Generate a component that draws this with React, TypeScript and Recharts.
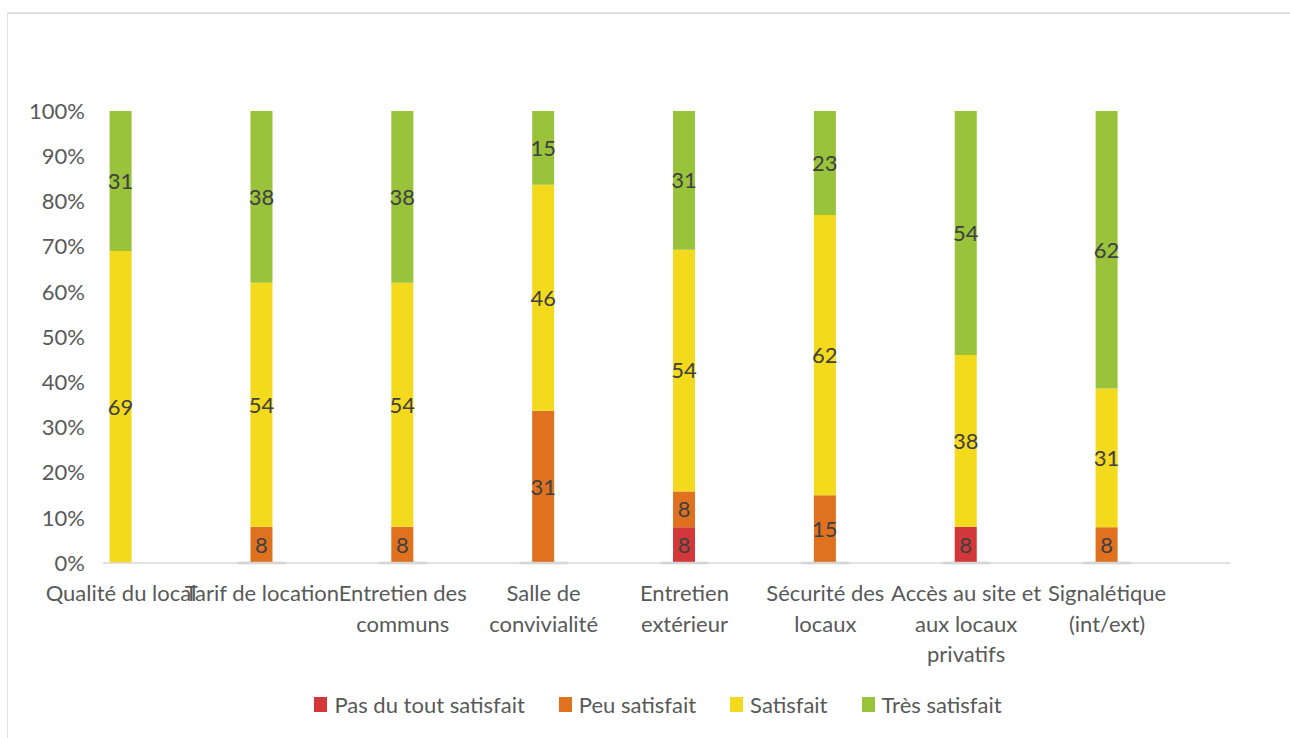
import { Bar, BarChart, LabelList, Legend, ReferenceLine, XAxis, YAxis } from "recharts";

const categories = [
  "Qualité du local",
  "Tarif de location",
  "Entretien des\ncommuns",
  "Salle de\nconvivialité",
  "Entretien\nextérieur",
  "Sécurité des\nlocaux",
  "Accès au site et\naux locaux\nprivatifs",
  "Signalétique\n(int/ext)",
];

const pasDuTout = [0, 0, 0, 0, 8, 0, 8, 0];
const peu = [0, 8, 8, 31, 8, 15, 0, 8];
const satisfait = [69, 54, 54, 46, 54, 62, 38, 31];
const tres = [31, 38, 38, 15, 31, 23, 54, 62];

const yTicks = [0, 0.1, 0.2, 0.3, 0.4, 0.5, 0.6, 0.7, 0.8, 0.9, 1];

const series = [
  { key: "pas", name: "Pas du tout satisfait", color: "#d2373a" },
  { key: "peu", name: "Peu satisfait", color: "#e0711f" },
  { key: "sat", name: "Satisfait", color: "#f3da1c" },
  { key: "tres", name: "Très satisfait", color: "#99c33b" },
];

const data = categories.map((c, i) => ({
  idx: i,
  name: c,
  pas: pasDuTout[i],
  peu: peu[i],
  sat: satisfait[i],
  tres: tres[i],
}));

const FONT = "Lato, 'Open Sans', sans-serif";

const CategoryTick = (props: any) => {
  const { x, y, payload } = props;
  const lines = (categories[payload.value] ?? "").split("\n");
  return (
    <text x={x} y={y} textAnchor="middle" fill="#595959" fontSize={22} fontFamily={FONT}>
      {lines.map((l, i) => (
        <tspan key={i} x={x} dy={i === 0 ? 30 : 30.5}>
          {l}
        </tspan>
      ))}
    </text>
  );
};

const LegendContent = () => (
  <div style={{ display: "flex", justifyContent: "center", fontFamily: FONT, fontSize: 22, color: "#595959", paddingLeft: 26 }}>
    {series.map((s, i) => (
      <div key={s.key} style={{ display: "flex", alignItems: "center", marginLeft: i === 0 ? 0 : 34 }}>
        <span style={{ width: 13, height: 15, background: s.color, display: "inline-block", marginRight: 7 }} />
        <span>{s.name}</span>
      </div>
    ))}
  </div>
);

export default function App() {
  return (
    <div style={{ position: "absolute", left: 0, top: 0, width: 1290, height: 738, background: "#fff", overflow: "hidden" }}>
      <div
        style={{
          position: "absolute",
          left: 7,
          top: 12,
          width: 1300,
          height: 760,
          borderTop: "2px solid #dedede",
          borderLeft: "1.5px solid #e2e2e2",
        }}
      />
      <BarChart
        width={1290}
        height={738}
        data={data}
        stackOffset="expand"
        margin={{ top: 111, right: 60, bottom: 75, left: 0 }}
        style={{ position: "absolute", left: 0, top: 0 }}
      >
        <XAxis
          dataKey="idx"
          type="number"
          domain={[-0.128, 7.873]}
          ticks={[0, 1, 2, 3, 4, 5, 6, 7]}
          interval={0}
          allowDataOverflow
          tick={<CategoryTick />}
          tickLine={false}
          axisLine={{ stroke: "#d9d9d9", strokeWidth: 1.5 }}
          height={100}
        />
        <YAxis
          ticks={yTicks}
          domain={[0, 1]}
          tickFormatter={(v: number) => `${Math.round(v * 100)}%`}
          tick={{ fill: "#595959", fontSize: 22, fontFamily: FONT }}
          tickLine={false}
          axisLine={false}
          tickMargin={12}
          width={103}
        />
        {categories.map((_, i) => (
          <ReferenceLine
            key={i}
            segment={[
              { x: i - 0.17, y: 0 },
              { x: i + 0.17, y: 0 },
            ]}
            stroke="#c9c9c9"
            strokeWidth={2.5}
          />
        ))}
        {series.map((s) => (
          <Bar key={s.key} dataKey={s.key} name={s.name} stackId="a" fill={s.color} barSize={22} isAnimationActive={false}>
            <LabelList
              dataKey={s.key}
              position="center"
              formatter={(v: any) => (v ? v : "")}
              fill="#404040"
              fontSize={22}
              fontFamily={FONT}
            />
          </Bar>
        ))}
        <Legend
          layout="horizontal"
          verticalAlign="middle"
          align="center"
          content={<LegendContent />}
          wrapperStyle={{ position: "absolute", top: 691, left: 0, width: 1290 }}
        />
      </BarChart>
    </div>
  );
}
